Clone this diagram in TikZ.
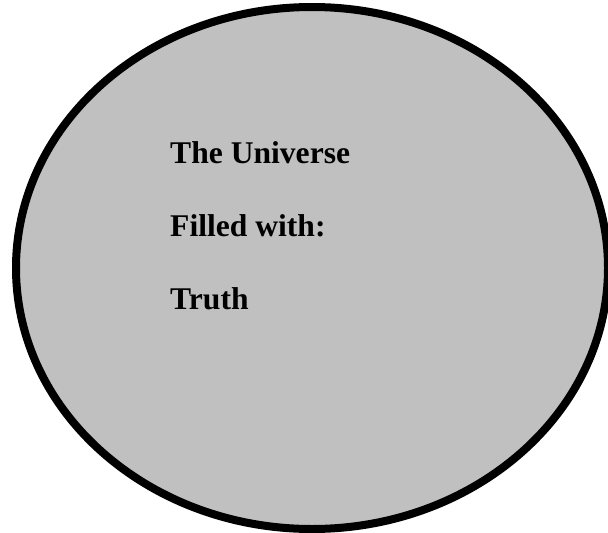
\documentclass[tikz,border=0pt]{standalone}
\usepackage{fontspec}
\setmainfont{Liberation Serif}
\definecolor{ufill}{HTML}{C0C0C0}
\begin{document}
\begin{tikzpicture}[x=1pt,y=-1pt,
  lbl/.style={anchor=base west,inner sep=0pt,font=\fontsize{31.6}{36}\selectfont\bfseries}]
\useasboundingbox (0,0) rectangle (608,533);
\draw[line width=8pt,fill=ufill] (312,268) ellipse [x radius=296,y radius=261];
\node[lbl] (t1) at (170,163) {The Universe};
\node[lbl] (t2) at (170,236) {Filled with:};
\node[lbl] (t3) at (170,309) {Truth};
\end{tikzpicture}
\end{document}
